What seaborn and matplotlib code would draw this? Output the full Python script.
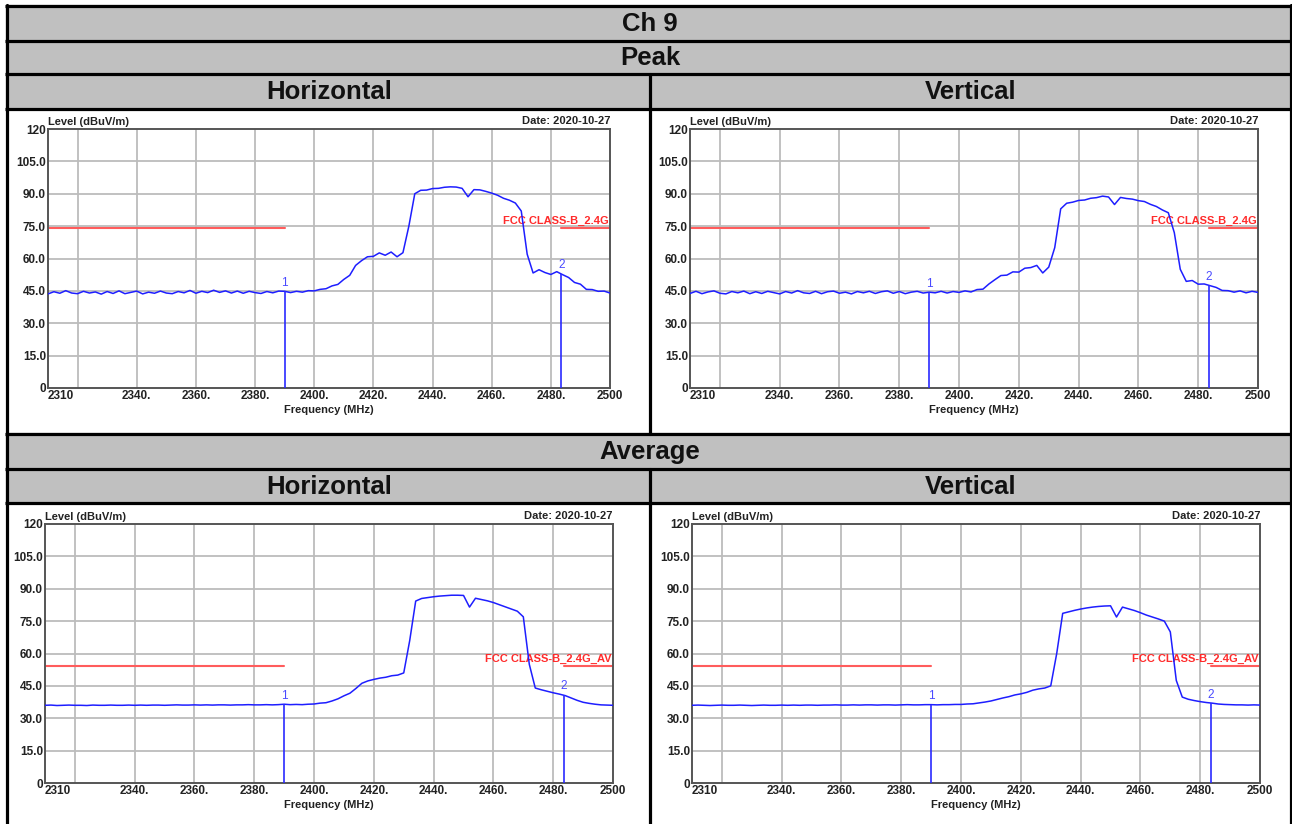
import numpy as np
import matplotlib
matplotlib.use("Agg")
import matplotlib.pyplot as plt
from matplotlib.patches import Rectangle
import seaborn as sns

sns.set_style("white")
plt.rcParams['font.family'] = ['Liberation Sans', 'DejaVu Sans']

W, H = 1292, 824

# sweep grid (2 MHz steps) and traces
freq = np.arange(2310, 2502, 2)

peak_h = [43.6, 44.6, 43.9, 45.1, 44.0, 43.7, 44.8, 44.0, 44.5, 43.5,
          44.7, 43.8, 45.0, 43.7, 44.3, 44.9, 43.6, 44.4, 43.9, 44.9,
          44.0, 43.7, 44.7, 44.1, 45.2, 43.9, 44.8, 44.2, 45.3, 44.3,
          45.0, 44.0, 44.9, 43.9, 44.8, 44.2, 43.8, 44.7, 44.1, 44.9,
          44.8,
          44.2, 44.8, 44.4, 45.1, 45.0, 45.7, 46.0, 47.3, 48.0, 50.3,
          52.2, 56.8, 59.0, 60.8, 61.0, 62.6, 61.5, 63.0, 60.8, 62.7,
          75.0, 90.0, 91.6, 91.7, 92.4, 92.5, 93.0, 93.2, 93.1, 92.5,
          88.6, 91.9, 91.8, 91.1, 90.3, 89.3, 87.9, 87.0, 85.7, 82.0,
          62.0, 53.3, 54.8, 53.5, 52.6, 53.9, 52.5, 51.2, 48.9, 48.1,
          45.7, 45.6, 44.8, 44.9, 44.0]

peak_v = [43.8, 44.8, 43.7, 44.5, 45.0, 43.9, 43.6, 44.7, 44.1, 44.9,
          43.7, 44.6, 43.8, 44.8, 44.2, 43.6, 44.7, 44.0, 45.1, 44.1,
          43.8, 44.8, 43.7, 44.6, 44.9, 43.9, 44.4, 43.6, 44.7, 44.1,
          44.8, 43.8, 44.6, 45.0, 43.9, 44.7, 43.7, 44.4, 44.8, 44.0,
          44.4,
          44.1, 44.8, 44.0, 44.7, 44.3, 45.0, 44.5, 45.6, 45.8, 48.2,
          50.2, 52.1, 52.3, 53.8, 53.7, 55.5, 55.8, 56.8, 53.3, 56.0,
          65.0, 83.0, 85.6, 86.1, 86.9, 87.1, 87.9, 88.2, 88.9, 88.5,
          85.0, 88.3, 87.8, 87.5, 86.8, 86.4, 85.1, 84.1, 82.5, 81.2,
          72.0, 55.0, 49.4, 49.8, 48.1, 48.2, 47.4, 46.6, 45.2, 45.1,
          44.4, 45.0, 44.1, 44.8, 44.3]

avg_h = [36.0, 36.1, 35.9, 36.0, 36.1, 36.0, 36.0, 35.9, 36.1, 36.0,
         36.0, 36.1, 36.0, 36.0, 36.1, 36.0, 36.1, 36.0, 36.1, 36.1,
         36.0, 36.1, 36.2, 36.1, 36.1, 36.2, 36.1, 36.2, 36.1, 36.2,
         36.2, 36.1, 36.2, 36.2, 36.3, 36.2, 36.2, 36.3, 36.2, 36.3,
         36.5, 36.3, 36.4, 36.3, 36.5,
         36.6, 37.0, 37.2, 38.0, 39.0, 40.4, 41.6, 43.8, 46.2, 47.3,
         48.0, 48.6, 49.0, 49.7, 50.0, 51.0, 66.0, 84.3, 85.5, 85.9,
         86.3, 86.6, 86.8, 87.0, 87.0, 86.9, 81.5, 85.6, 85.0, 84.4,
         83.6, 82.6, 81.6, 80.6, 79.6, 77.0, 55.0, 44.0, 43.2, 42.5,
         41.8, 41.2, 40.5, 39.4, 38.3, 37.4, 36.9, 36.5, 36.2, 36.1,
         36.0]

avg_v = [36.0, 36.1, 36.0, 35.9, 36.0, 36.1, 36.0, 36.0, 36.1, 36.0,
         35.9, 36.0, 36.1, 36.0, 36.0, 36.1, 36.0, 36.1, 36.0, 36.1,
         36.1, 36.0, 36.1, 36.1, 36.2, 36.1, 36.1, 36.2, 36.1, 36.2,
         36.2, 36.1, 36.2, 36.2, 36.1, 36.2, 36.3, 36.2, 36.2, 36.3,
         36.3, 36.2, 36.3, 36.3, 36.4, 36.4,
         36.6, 36.7, 37.1, 37.5, 38.0, 38.7, 39.4, 40.0, 40.8, 41.3,
         42.0, 43.0, 43.6, 44.0, 45.0, 60.0, 78.6, 79.3, 80.0, 80.6,
         81.1, 81.5, 81.8, 82.0, 82.1, 76.9, 81.5, 80.7, 79.9, 78.9,
         77.8, 76.9, 76.0, 75.0, 70.0, 47.5, 39.8, 38.8, 38.2, 37.7,
         37.3, 37.0, 36.6, 36.4, 36.3, 36.2, 36.2, 36.1, 36.2, 36.1]

marker_freq = [2390, 2483.5]
marker_peak_h = [44.8, 53.0]
marker_peak_v = [44.4, 47.6]
marker_avg_h = [36.5, 40.8]
marker_avg_v = [36.3, 37.0]

limit_peak = 74
limit_avg = 54
limit_label_peak = "FCC CLASS-B_2.4G"
limit_label_avg = "FCC CLASS-B_2.4G_AV"

y_ticks = [0, 15, 30, 45, 60, 75, 90, 105, 120]
y_labels = ["0", "15.0", "30.0", "45.0", "60.0", "75.0", "90.0", "105.0", "120"]
x_ticks = [2310, 2340, 2360, 2380, 2400, 2420, 2440, 2460, 2480, 2500]
x_labels = ["2310", "2340.", "2360.", "2380.", "2400.", "2420.", "2440.", "2460.", "2480.", "2500"]
grid_x = [2320, 2340, 2360, 2380, 2400, 2420, 2440, 2460, 2480]
grid_y = [15, 30, 45, 60, 75, 90, 105]
date_text = "Date: 2020-10-27"

fig = plt.figure(figsize=(W / 100, H / 100), dpi=100)

# table background drawn in pixel coordinates
bg = fig.add_axes([0, 0, 1, 1])
bg.set_xlim(0, W)
bg.set_ylim(H, 0)
bg.axis("off")

gray = "#c0c0c0"
bg.add_patch(Rectangle((6, 5), 1285, 104, color=gray, zorder=0))
bg.add_patch(Rectangle((6, 433), 1285, 70, color=gray, zorder=0))

lw_tab = 2.3
for yy in [5.5, 41, 74, 108.5, 433.5, 469, 503]:
    bg.plot([5, 1292], [yy, yy], color="black", lw=lw_tab, solid_capstyle="butt")
bg.plot([6.5, 6.5], [4.5, H], color="black", lw=lw_tab)
bg.plot([1290.5, 1290.5], [4.5, H], color="black", lw=lw_tab)
bg.plot([650, 650], [74, 433.5], color="black", lw=lw_tab)
bg.plot([650, 650], [469, H], color="black", lw=lw_tab)

head_kw = dict(ha="center", va="center", fontsize=18.5, fontweight="bold", color="#111111")
bg.text(650, 24, "Ch 9", **head_kw)
bg.text(650, 58, "Peak", **head_kw)
bg.text(329, 92, "Horizontal", **head_kw)
bg.text(971, 92, "Vertical", **head_kw)
bg.text(650, 452, "Average", **head_kw)
bg.text(329, 487, "Horizontal", **head_kw)
bg.text(971, 487, "Vertical", **head_kw)


def draw_chart(box, level, limit, limit_label, marker_level):
    x0, y0, x1, y1 = box
    ax = fig.add_axes([x0 / W, 1 - y1 / H, (x1 - x0) / W, (y1 - y0) / H])
    ax.set_facecolor("white")

    for g in grid_x:
        ax.axvline(g, color="#bcbcbc", lw=1.3, zorder=0)
    for g in grid_y:
        ax.axhline(g, color="#bcbcbc", lw=1.3, zorder=0)

    # limit line (broken around the label)
    ax.plot([2310, 2390], [limit, limit], color="#ff5c5c", lw=1.5, zorder=2)
    ax.plot([2483.5, 2500], [limit, limit], color="#ff5c5c", lw=1.5, zorder=2)
    ax.text(2499.5, limit + 1.0, limit_label, ha="right", va="bottom",
            color="#ff2b2b", fontsize=8, fontweight="bold", zorder=3)

    sns.lineplot(x=freq, y=level, ax=ax, color="#1e1eff", lw=1.1,
                 estimator=None, zorder=3)

    for i, (mf, ml) in enumerate(zip(marker_freq, marker_level)):
        ax.vlines(mf, 0, ml, color="#2a2aff", lw=1.2, zorder=4)
        ax.text(mf, ml + 1.2, str(i + 1), ha="center", va="bottom",
                color="#4a4aff", fontsize=8.5, zorder=4)

    ax.set_xlim(2310, 2500)
    ax.set_ylim(0, 120)
    ax.set_xticks(x_ticks)
    ax.set_xticklabels(x_labels)
    ax.set_yticks(y_ticks)
    ax.set_yticklabels(y_labels)
    ax.tick_params(length=0, labelsize=8.5, pad=1.5, colors="#222222")
    for lbl in ax.get_xticklabels() + ax.get_yticklabels():
        lbl.set_fontweight("bold")
    ax.get_xticklabels()[0].set_horizontalalignment("left")
    ax.set_xlabel("")
    ax.set_ylabel("")
    for sp in ax.spines.values():
        sp.set_visible(True)
        sp.set_color("#555555")
        sp.set_linewidth(1.4)

    ax.text(0.0, 1.006, "Level (dBuV/m)", transform=ax.transAxes, ha="left",
            va="bottom", fontsize=8, fontweight="bold", color="#222222")
    ax.text(1.0, 1.012, date_text, transform=ax.transAxes, ha="right",
            va="bottom", fontsize=8, fontweight="bold", color="#222222")
    ax.text(0.5, -0.066, "Frequency (MHz)", transform=ax.transAxes, ha="center",
            va="top", fontsize=8, fontweight="bold", color="#222222")
    return ax


draw_chart((48, 129, 610, 388), peak_h, limit_peak, limit_label_peak, marker_peak_h)
draw_chart((690, 129, 1258, 388), peak_v, limit_peak, limit_label_peak, marker_peak_v)
draw_chart((45, 524, 613, 783), avg_h, limit_avg, limit_label_avg, marker_avg_h)
draw_chart((692, 524, 1260, 783), avg_v, limit_avg, limit_label_avg, marker_avg_v)

fig.savefig("out.png", dpi=100)
